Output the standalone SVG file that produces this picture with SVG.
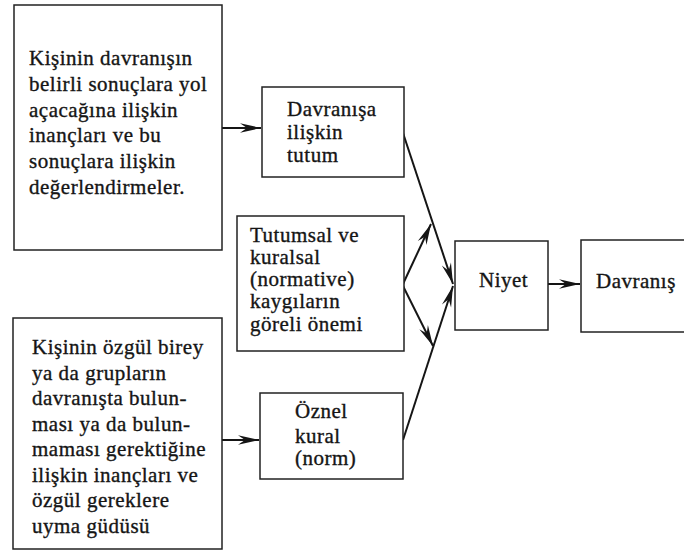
<svg xmlns="http://www.w3.org/2000/svg" width="684" height="560" viewBox="0 0 684 560">
  <style>
    .box { fill: #ffffff; stroke: #222222; stroke-width: 1.5; }
    .lbl { font-family: "Liberation Serif", "DejaVu Serif", serif; font-size: 21px; letter-spacing: 0.5px; fill: #151515; stroke: #151515; stroke-width: 0.35px; }
    .edge { fill: none; stroke: #151515; stroke-width: 2; marker-end: url(#ah); }
  </style>
  <defs>
    <marker id="ah" viewBox="-24 -7 26 14" refX="0" refY="0" markerWidth="26" markerHeight="14" markerUnits="userSpaceOnUse" orient="auto">
      <path d="M0,0 L-21,-4.8 L-14,0 L-21,4.8 Z" fill="#151515"/>
    </marker>
  </defs>

  <rect width="684" height="560" fill="#ffffff"/>

  <!-- connectors -->
  <g id="connectors">
    <line class="edge" x1="222" y1="128" x2="261" y2="128"/>
    <line class="edge" x1="222" y1="440" x2="259" y2="440"/>
    <line class="edge" x1="402" y1="130" x2="453" y2="284"/>
    <line class="edge" x1="403" y1="440" x2="453" y2="286"/>
    <line class="edge" x1="403" y1="284" x2="431" y2="224"/>
    <line class="edge" x1="403" y1="286" x2="433" y2="346"/>
    <line class="edge" x1="548" y1="284" x2="580" y2="284"/>
  </g>

  <!-- beliefs about outcomes -->
  <g id="beliefs-outcomes">
    <rect class="box" x="14" y="5" width="208" height="245"/>
    <text class="lbl" x="29" y="65">Kişinin davranışın</text>
    <text class="lbl" x="29" y="91">belirli sonuçlara yol</text>
    <text class="lbl" x="29" y="116.5">açacağına ilişkin</text>
    <text class="lbl" x="29" y="142">inançları ve bu</text>
    <text class="lbl" x="29" y="168">sonuçlara ilişkin</text>
    <text class="lbl" x="29" y="194">değerlendirmeler.</text>
  </g>

  <!-- attitude -->
  <g id="attitude">
    <rect class="box" x="262" y="87" width="142" height="90"/>
    <text class="lbl" x="287" y="116">Davranışa</text>
    <text class="lbl" x="287" y="139">ilişkin</text>
    <text class="lbl" x="287" y="162">tutum</text>
  </g>

  <!-- relative weights -->
  <g id="weights">
    <rect class="box" x="237" y="216" width="167" height="135"/>
    <text class="lbl" x="250" y="242">Tutumsal ve</text>
    <text class="lbl" x="250" y="264">kuralsal</text>
    <text class="lbl" x="250" y="286">(normative)</text>
    <text class="lbl" x="250" y="308">kaygıların</text>
    <text class="lbl" x="250" y="330.5">göreli önemi</text>
  </g>

  <!-- intention -->
  <g id="intention">
    <rect class="box" x="455" y="241" width="93" height="89"/>
    <text class="lbl" x="479" y="287">Niyet</text>
  </g>

  <!-- behaviour -->
  <g id="behaviour">
    <rect class="box" x="581" y="240" width="130" height="92"/>
    <text class="lbl" x="596" y="288">Davranış</text>
  </g>

  <!-- normative beliefs -->
  <g id="beliefs-normative">
    <rect class="box" x="13" y="318" width="209" height="231"/>
    <text class="lbl" x="32" y="354">Kişinin özgül birey</text>
    <text class="lbl" x="32" y="379.5">ya da grupların</text>
    <text class="lbl" x="32" y="405">davranışta bulun-</text>
    <text class="lbl" x="32" y="430.5">ması ya da bulun-</text>
    <text class="lbl" x="32" y="456">maması gerektiğine</text>
    <text class="lbl" x="32" y="481.5">ilişkin inançları ve</text>
    <text class="lbl" x="32" y="507">özgül gereklere</text>
    <text class="lbl" x="32" y="532.5">uyma güdüsü</text>
  </g>

  <!-- subjective norm -->
  <g id="subjective-norm">
    <rect class="box" x="260" y="393" width="143" height="86"/>
    <text class="lbl" x="295" y="418">Öznel</text>
    <text class="lbl" x="295" y="443">kural</text>
    <text class="lbl" x="295" y="465">(norm)</text>
  </g>
</svg>
